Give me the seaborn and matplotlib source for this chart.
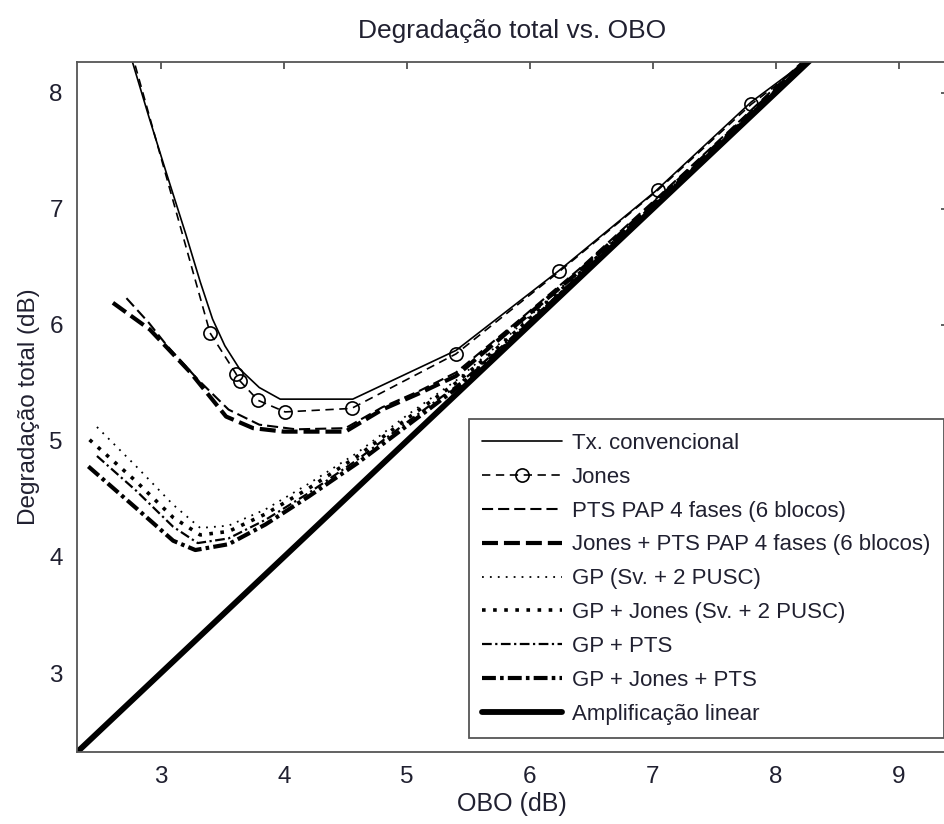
import matplotlib
matplotlib.use('Agg')
import matplotlib.pyplot as plt
import seaborn as sns

# OBO (dB) / total degradation (dB)
obo_tx = [2.62, 2.77, 2.90, 3.05, 3.20, 3.32, 3.42, 3.52, 3.64, 3.80, 3.97, 4.56, 5.40, 6.24, 7.02, 7.80, 8.60]
deg_tx = [8.82, 8.26, 7.80, 7.29, 6.79, 6.37, 6.05, 5.82, 5.62, 5.46, 5.36, 5.36, 5.78, 6.47, 7.15, 7.92, 8.55]

obo_jones = [2.70, 3.40, 3.61, 3.64, 3.79, 4.01, 4.55, 5.40, 6.24, 7.04, 7.80, 8.60]
deg_jones = [8.58, 5.93, 5.58, 5.52, 5.35, 5.25, 5.28, 5.75, 6.46, 7.16, 7.90, 8.55]

obo_pts = [2.72, 2.90, 3.05, 3.30, 3.55, 3.80, 4.10, 4.50, 4.80, 5.10, 5.40, 5.90, 6.40, 7.00, 7.60, 8.20, 8.70]
deg_pts = [6.23, 6.02, 5.82, 5.53, 5.27, 5.14, 5.10, 5.11, 5.29, 5.43, 5.59, 6.03, 6.48, 7.06, 7.65, 8.25, 8.74]

obo_jones_pts = [2.61, 2.91, 3.24, 3.53, 3.75, 4.00, 4.50, 4.80, 5.10, 5.40, 5.90, 6.40, 7.00, 7.60, 8.20, 8.70]
deg_jones_pts = [6.19, 5.96, 5.59, 5.21, 5.11, 5.08, 5.08, 5.27, 5.41, 5.56, 6.01, 6.46, 7.04, 7.63, 8.23, 8.72]

obo_gp = [2.48, 2.80, 3.10, 3.32, 3.55, 3.85, 4.20, 4.60, 5.00, 5.40, 5.80, 6.20, 6.70, 7.30, 8.00, 8.70]
deg_gp = [5.12, 4.78, 4.45, 4.25, 4.27, 4.41, 4.63, 4.90, 5.22, 5.52, 5.88, 6.27, 6.75, 7.33, 8.03, 8.72]

obo_gp_jones = [2.42, 2.80, 3.10, 3.32, 3.55, 3.85, 4.20, 4.60, 5.00, 5.40, 5.80, 6.20, 6.70, 7.30, 8.00, 8.70]
deg_gp_jones = [5.01, 4.65, 4.34, 4.19, 4.22, 4.37, 4.59, 4.87, 5.19, 5.50, 5.86, 6.25, 6.73, 7.32, 8.02, 8.71]

obo_gp_pts = [2.48, 2.80, 3.10, 3.30, 3.55, 3.85, 4.20, 4.60, 5.00, 5.40, 5.80, 6.20, 6.70, 7.30, 8.00, 8.70]
deg_gp_pts = [4.87, 4.57, 4.26, 4.12, 4.16, 4.32, 4.55, 4.84, 5.16, 5.47, 5.84, 6.23, 6.72, 7.31, 8.01, 8.71]

obo_gp_jones_pts = [2.41, 2.80, 3.10, 3.28, 3.55, 3.85, 4.20, 4.60, 5.00, 5.40, 5.80, 6.20, 6.70, 7.30, 8.00, 8.70]
deg_gp_jones_pts = [4.78, 4.42, 4.14, 4.06, 4.11, 4.28, 4.52, 4.81, 5.13, 5.45, 5.82, 6.22, 6.71, 7.30, 8.00, 8.70]

obo_linear = [2.30, 8.70]
deg_linear = [2.30, 8.70]

labels = ['Tx. convencional', 'Jones', 'PTS PAP 4 fases (6 blocos)',
          'Jones + PTS PAP 4 fases (6 blocos)', 'GP (Sv. + 2 PUSC)',
          'GP + Jones (Sv. + 2 PUSC)', 'GP + PTS', 'GP + Jones + PTS',
          'Amplificação linear']

sns.set_theme(style='white')
plt.rcParams['font.family'] = ['Liberation Sans', 'DejaVu Sans']
plt.rcParams['lines.scale_dashes'] = False
txt = '#202030'

fig = plt.figure(figsize=(9.44, 8.24), dpi=100)
ax = fig.add_axes([0.0812, 0.0874, 0.923, 0.8374])

series = [
    (obo_tx, deg_tx, 1.2, '-', None),
    (obo_jones, deg_jones, 1.2, (0, (6, 4)), 'o'),
    (obo_pts, deg_pts, 1.5, (0, (8, 3.6)), None),
    (obo_jones_pts, deg_jones_pts, 3.0, (0, (11.5, 4.3)), None),
    (obo_gp, deg_gp, 1.3, (0, (1.3, 4.4)), None),
    (obo_gp_jones, deg_gp_jones, 2.6, (0, (2.6, 5.4)), None),
    (obo_gp_pts, deg_gp_pts, 1.6, (0, (7, 2.5, 1.6, 2.5)), None),
    (obo_gp_jones_pts, deg_gp_jones_pts, 3.0, (0, (10, 3, 2.6, 3)), None),
    (obo_linear, deg_linear, 4.2, '-', None),
]

for (xs, ys, lw, ls, mk), lab in zip(series, labels):
    kw = {}
    if mk:
        kw = dict(marker=mk, markersize=9.5, markerfacecolor='none',
                  markeredgecolor='black', markeredgewidth=1.2)
    sns.lineplot(x=xs, y=ys, ax=ax, sort=False, estimator=None, color='black',
                 linewidth=lw, linestyle=ls, label=lab, **kw)

ax.set_xlim(2.315, 9.40)
ax.set_ylim(2.32, 8.265)
ax.set_xticks([3, 4, 5, 6, 7, 8, 9])
ax.set_yticks([3, 4, 5, 6, 7, 8])

for s in ax.spines.values():
    s.set_color('#555555')
    s.set_linewidth(1.3)
ax.tick_params(direction='in', length=5, width=1.1, color='#333333',
               top=True, right=True, labelsize=17.5, labelcolor=txt, pad=10)

ax.set_xlabel('OBO (dB)', fontsize=18, color=txt, labelpad=3)
ax.set_ylabel('Degradação total (dB)', fontsize=17.5, color=txt, labelpad=7)
ax.set_title('Degradação total vs. OBO', fontsize=19, color=txt, pad=17)

leg = ax.legend(loc='lower right', bbox_to_anchor=(0.995, 0.02), borderaxespad=0,
                fontsize=16, handlelength=3.6, handletextpad=0.45,
                labelspacing=0.58, fancybox=False, framealpha=1,
                edgecolor='#555555', borderpad=0.6)
leg.get_frame().set_linewidth(1.3)
for t in leg.get_texts():
    t.set_color(txt)

fig.savefig('out.png', dpi=100)
